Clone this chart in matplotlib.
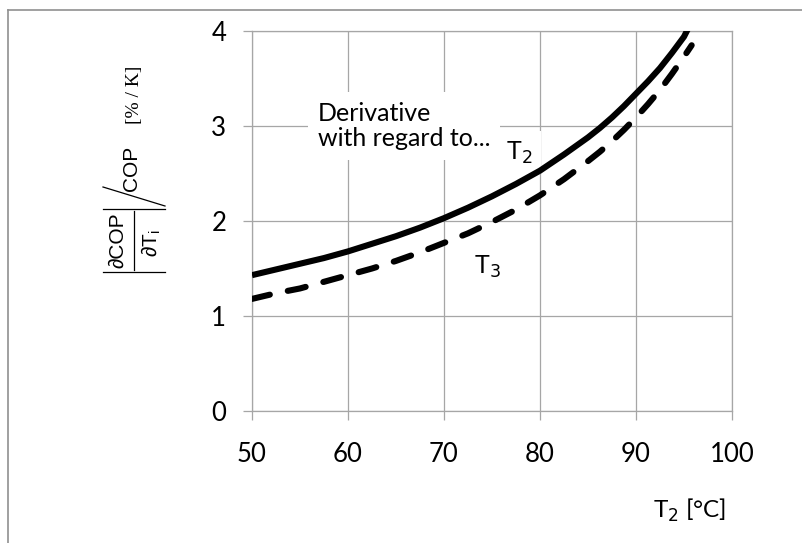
import numpy as np
import matplotlib.pyplot as plt
from matplotlib.lines import Line2D

# data
t2 = [50, 52.5, 55, 57.5, 60, 62.5, 65, 67.5, 70, 72.5, 75, 77.5, 80,
      82.5, 85, 86.25, 87.5, 88.75, 90, 91.25, 92.5, 93.75, 95, 95.5]
d_t2 = [1.43, 1.49, 1.55, 1.61, 1.68, 1.76, 1.84, 1.93, 2.03, 2.14, 2.26,
        2.39, 2.53, 2.70, 2.88, 2.98, 3.09, 3.21, 3.34, 3.47, 3.61, 3.77,
        3.94, 4.04]
t3 = [50, 52.5, 55, 57.5, 60, 62.5, 65, 67.5, 70, 72.5, 75, 77.5, 80,
      82.5, 85, 86.25, 87.5, 88.75, 90, 91.25, 92.5, 93.75, 95, 95.8]
d_t3 = [1.18, 1.24, 1.29, 1.36, 1.43, 1.50, 1.58, 1.67, 1.77, 1.87, 1.99,
        2.12, 2.27, 2.44, 2.63, 2.73, 2.84, 2.96, 3.09, 3.23, 3.38, 3.55,
        3.73, 3.85]
xticks = [50, 60, 70, 80, 90, 100]
yticks = [0, 1, 2, 3, 4]

grey = '#a6a6a6'
plt.rcParams['font.family'] = ['Lato', 'DejaVu Sans']

W, H = 802, 543
fig = plt.figure(figsize=(W / 100, H / 100), dpi=100)
ax = fig.add_axes([252 / W, 1 - 411 / H, (732 - 252) / W, (411 - 31) / H])

ax.plot(t2, d_t2, color='black', lw=4.4, solid_capstyle='butt',
        solid_joinstyle='round', zorder=3)
ax.plot(t3, d_t3, color='black', lw=4.4, dashes=(3.0, 3.0),
        dash_capstyle='round', zorder=3)

ax.set_xlim(50, 100)
ax.set_ylim(0, 4)
ax.set_xticks(xticks)
ax.set_yticks(yticks)
ax.grid(True, color=grey, lw=0.9)
for s in ax.spines.values():
    s.set_color(grey)
    s.set_linewidth(0.9)
ax.tick_params(axis='both', color=grey, width=0.9, length=6.5, labelsize=18.5)
ax.tick_params(axis='x', pad=16)
ax.tick_params(axis='y', pad=12)

ax.text(56.9, 3.0, 'Derivative\nwith regard to...', fontsize=18, ha='left',
        va='center', linespacing=1.1, zorder=2,
        bbox=dict(facecolor='white', edgecolor='none', pad=7))
ax.text(76.5, 2.72, 'T$_2$', fontsize=18, ha='left', va='center', zorder=2,
        bbox=dict(facecolor='white', edgecolor='none', pad=6))
ax.text(73.1, 1.52, 'T$_3$', fontsize=18, ha='left', va='center')

fig.text(653 / W, 1 - 510 / H, 'T$_2$ [°C]', fontsize=17.5, ha='left', va='center')

# y label: |dCOP/dTi| / COP  [% / K]
sans = ['Liberation Sans', 'DejaVu Sans']
fig.text(118 / W, 1 - 240 / H, '∂COP', family=sans, fontsize=15, rotation=90,
         ha='center', va='center')
fig.text(151 / W, 1 - 243 / H, '∂T$_\\mathregular{i}$', family=sans, fontsize=15,
         rotation=90, ha='center', va='center')
fig.text(131 / W, 1 - 168 / H, 'COP', family=sans, fontsize=15, rotation=90,
         ha='center', va='center')
fig.text(135 / W, 1 - 95 / H, '[% / K]', family=['Liberation Serif', 'DejaVu Serif'],
         fontsize=14, rotation=90, ha='center', va='center')

def fline(x, y, **kw):
    fig.add_artist(Line2D([v / W for v in x], [1 - v / H for v in y],
                          color='black', lw=0.9, **kw))

fline([134, 134], [211, 270])
fline([103, 165], [209, 209])
fline([103, 165], [272, 272])
fline([103, 165], [187, 206])

# outer frame
fig.add_artist(Line2D([8 / W, 1], [1 - 10 / H, 1 - 10 / H], color='#909090', lw=1.2))
fig.add_artist(Line2D([8 / W, 8 / W], [0, 1 - 10 / H], color='#909090', lw=1.2))

fig.savefig('out.png', dpi=100)
